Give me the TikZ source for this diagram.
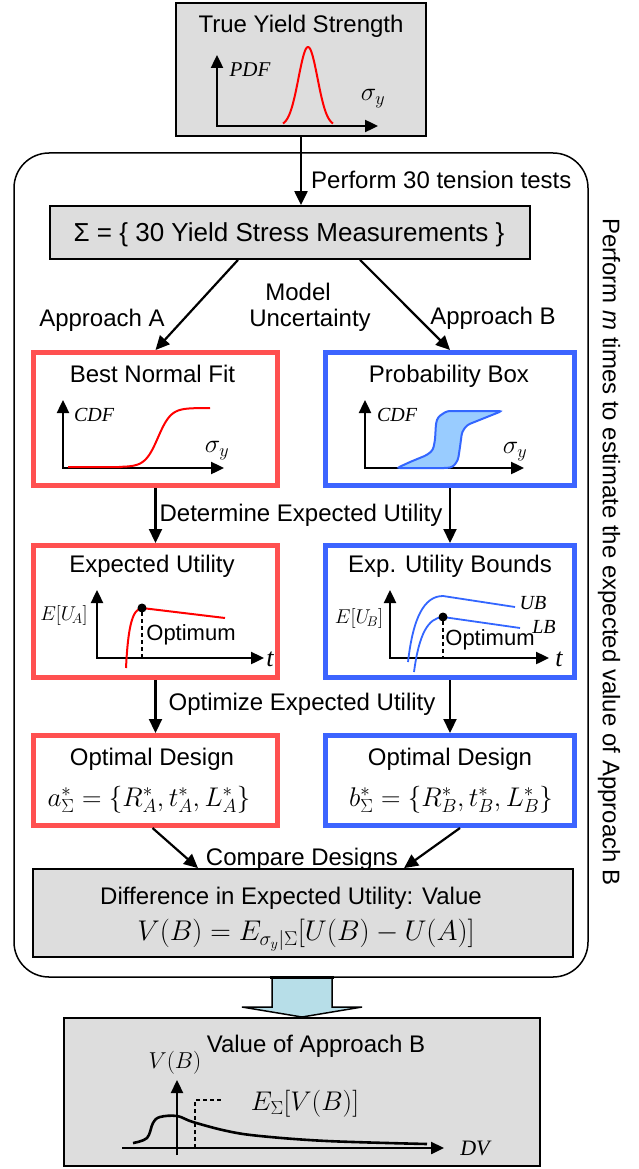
\RequirePackage{fix-cm}
\documentclass[tikz,border=0pt]{standalone}
\usepackage[no-math]{fontspec}
\setmainfont{Liberation Sans}
\newfontfamily\tnr{Liberation Serif}
\usetikzlibrary{arrows.meta,calc}
\definecolor{boxgray}{RGB}{221,221,221}
\definecolor{redbox}{RGB}{255,80,80}
\definecolor{bluebox}{RGB}{60,100,255}
\definecolor{pboxfill}{RGB}{153,204,255}
\definecolor{bluecurve}{RGB}{51,102,255}
\definecolor{bigarrowfill}{RGB}{183,222,232}
\newcommand\fsz[1]{\fontsize{#1}{#1}\selectfont}
\begin{document}
\begin{tikzpicture}[x=1pt,y=-1pt,
  lbl/.style={font=\fsz{24}, inner sep=0pt, anchor=base},
  ser/.style={font=\fsz{20}\tnr\itshape, inner sep=0pt},
  mth/.style={font=\fsz{24}, inner sep=0pt},
  gbox/.style={draw=black, line width=1.8pt, fill=boxgray, rectangle, inner sep=0pt},
  rbox/.style={draw=redbox, line width=5pt, fill=white, rectangle, inner sep=0pt},
  bbox/.style={draw=bluebox, line width=5pt, fill=white, rectangle, inner sep=0pt},
  arr/.style={line width=2.2pt, -{Triangle[length=14pt,width=13pt]}},
  axis/.style={line width=2.4pt, -{Triangle[length=13pt,width=12pt]}},
  axis2/.style={line width=2.4pt, {Triangle[length=13pt,width=12pt]}-{Triangle[length=13pt,width=12pt]}},
  dsh/.style={line width=1.5pt, dash pattern=on 4pt off 3pt},
  optlbl/.style={font=\fsz{22}, inner sep=0pt}
]
\useasboundingbox (0,0) rectangle (638,1169);

% big rounded loop
\node[draw=black, line width=1.5pt, rectangle, rounded corners=35pt, minimum width=574pt, minimum height=824pt, inner sep=0pt] (loop) at (301,565) {};

% top box
\node[gbox, minimum width=250pt, minimum height=133pt] (top) at (301,69.5) {};
\node[lbl] (topT) at (301,33) {True Yield Strength};
\draw[axis2] (217,55) -- (217,126) -- (378,126);
\draw[red, line width=2pt] plot[domain=283:333, samples=80] (\x, {126-79*exp(-((\x-308)/9.5)^2/2)});
\node[ser, font=\fsz{21}\tnr\itshape] (pdfL) at (250,70) {PDF};
\node[mth, font=\fsz{26}] (sigL1) at (373,99) {$\sigma_y$};

% sigma box
\node[gbox, minimum width=480pt, minimum height=53pt] (sig) at (290,232.5) {};
\node[lbl, font=\fsz{26}] (sigT) at (289,241) {Σ = \{ 30 Yield Stress Measurements \}};
\draw[arr] (top.south) -- (top.south |- sig.north);
\node[lbl, anchor=base west] (perfT) at (311,188.5) {Perform 30 tension tests};

% row 1
\node[rbox, minimum width=244pt, minimum height=133pt] (bnf) at (155.5,419) {};
\node[bbox, minimum width=249pt, minimum height=133pt] (pb) at (450,419) {};
\node[lbl] (bnfT) at (152.5,382) {Best Normal Fit};
\node[lbl] (pbT) at (449,382) {Probability Box};
\draw[arr] ($(sig.south)+(-52,0)$) -- (bnf.north);
\draw[arr] ($(sig.south)+(70,0)$) -- (pb.north);
\node[lbl] (apA) at (102,326.5) {Approach A};
\node[lbl] (apB) at (493,324.5) {Approach B};
\node[lbl] (modL) at (298,300.5) {Model};
\node[lbl] (uncL) at (310,326.5) {Uncertainty};

% best normal fit plot
\draw[axis2] (63,400) -- (63,468) -- (224,468);
\draw[red, line width=2pt] (68,467) -- (120,467) -- plot[domain=120:210, samples=90] (\x, {467-59/(1+exp(-(\x-158)/6.5))});
\node[ser] (cdfA) at (94,415) {CDF};
\node[mth, font=\fsz{26}] (sigA) at (217,451) {$\sigma_y$};

% probability box plot
\draw[axis2] (365,400) -- (365,468) -- (524,468);
\draw[bluecurve, line width=2pt, fill=pboxfill, rounded corners=3pt]
  (397,468) -- (410,462) -- (427,455) -- (433,450) -- (435,440) -- (436,423) -- (438,417) -- (447,411)
  -- (502,411) -- (467,425) -- (462,432) -- (460,447) -- (458,460) -- (453,467) -- (447,468) -- cycle;
\node[ser] (cdfB) at (397,415) {CDF};
\node[mth, font=\fsz{26}] (sigB) at (515,452) {$\sigma_y$};

% row 2
\node[rbox, minimum width=244pt, minimum height=132pt] (eu) at (155.5,611.5) {};
\node[bbox, minimum width=249pt, minimum height=132pt] (eub) at (450,611.5) {};
\node[lbl] (euT) at (152,572.7) {Expected Utility};
\node[lbl] (eubT) at (450,572.7) {Exp. Utility Bounds};
\draw[arr] (bnf.south) -- (eu.north);
\draw[arr] (pb.south) -- (eub.north);
\node[lbl] (detL) at (301,521.5) {Determine Expected Utility};

% expected utility plot
\draw[axis2] (97,590) -- (97,658) -- (264,658);
\draw[red, line width=2pt] (126,668) .. controls (128,628) and (132,609) .. (142,608) -- (225,618);
\fill (142,608) circle (4.5pt);
\draw[dsh] (142,612) -- (142,658);
\node[mth, font=\fsz{20}] (euA) at (64,615) {$E[U_{\!A}]$};
\node[ser, font=\fsz{26}\tnr\itshape] (tA) at (270,659) {t};
\node[optlbl] (optA) at (191,635) {Optimum};

% exp utility bounds plot
\draw[axis2] (390,590) -- (390,658) -- (549,658);
\draw[bluecurve, line width=1.8pt] (408,662) .. controls (413,618) and (424,596) .. (443,596) -- (515,607);
\draw[bluecurve, line width=1.8pt] (414,672) .. controls (419,634) and (428,618) .. (443,617) -- (520,628);
\fill (443,617) circle (4.5pt);
\draw[dsh] (443,621) -- (443,658);
\node[mth, font=\fsz{20}] (euB) at (359,618) {$E[U_{\!B}]$};
\node[ser] (ubL) at (533,603) {UB};
\node[ser] (lbL) at (544,627) {LB};
\node[ser, font=\fsz{26}\tnr\itshape] (tB) at (559,659) {t};
\node[optlbl] (optB) at (490,640) {Optimum};

% row 3
\node[rbox, minimum width=244pt, minimum height=90pt] (odA) at (155.5,780.5) {};
\node[bbox, minimum width=249pt, minimum height=90pt] (odB) at (450,780.5) {};
\node[lbl] (odAT) at (152,765) {Optimal Design};
\node[lbl] (odBT) at (450,765) {Optimal Design};
\node[lbl, font=\fsz{27}] (odAF) at (149,806) {$a^*_\Sigma=\{R^*_A,t^*_A,L^*_A\}$};
\node[lbl, font=\fsz{27}] (odBF) at (451,806) {$b^*_\Sigma=\{R^*_B,t^*_B,L^*_B\}$};
\draw[arr] (eu.south) -- (odA.north);
\draw[arr] (eub.south) -- (odB.north);
\node[lbl] (optL) at (302,710) {Optimize Expected Utility};

% difference box
\node[gbox, minimum width=540pt, minimum height=88pt] (diff) at (303,913) {};
\node[lbl] (diffT) at (291,904) {Difference in Expected Utility: Value};
\node[lbl, font=\fsz{28.5}] (diffF) at (306,940) {$V(B)=E_{\sigma_y|\Sigma}[U(B)-U(A)]$};
\draw[arr] ($(odA.south)+(-3,0)$) -- ($(diff.north)+(-105,0)$);
\draw[arr] ($(odB.south)+(10,0)$) -- ($(diff.north)+(101,0)$);
\node[lbl] (cmpL) at (302,865) {Compare Designs};

% right vertical text
\node[font=\fsz{24}, rotate=-90, inner sep=0pt] (rt) at (609,552) {Perform \textit{m} times to estimate the expected value of Approach B};

% bottom box
\node[gbox, minimum width=476pt, minimum height=148pt] (bot) at (302,1092) {};
\node[lbl] (botT) at (316,1052) {Value of Approach B};
\draw[bigarrowfill, fill=bigarrowfill] (272,977) -- (272,1007) -- (242,1007) -- (302,1017) -- (362,1007) -- (332,1007) -- (332,977) -- cycle;
\draw[line width=1.5pt, line join=miter] (272,977) -- (272,1007) -- (242,1007) -- (302,1017) -- (362,1007) -- (332,1007) -- (332,977);
\draw[line width=3pt] (270,977) -- (334,977);

% bottom plot
\draw[axis] (177,1155) -- (177,1080);
\draw[axis] (122,1148) -- (444,1148);
\draw[line width=2.6pt] plot[smooth, tension=0.6] coordinates {(133,1143) (147,1138) (153,1123) (160,1117) (177,1116) (193,1122) (227,1131) (260,1136) (327,1141) (427,1144)};
\draw[dsh] (195,1148) -- (195,1100) -- (223,1100);
\node[mth, font=\fsz{23}] (vbL) at (175,1063) {$V(B)$};
\node[mth, font=\fsz{27}] (evL) at (305,1104) {$E_\Sigma[V(B)]$};
\node[ser, font=\fsz{22}\tnr\itshape] (dvL) at (475,1148) {DV};
\end{tikzpicture}
\end{document}
